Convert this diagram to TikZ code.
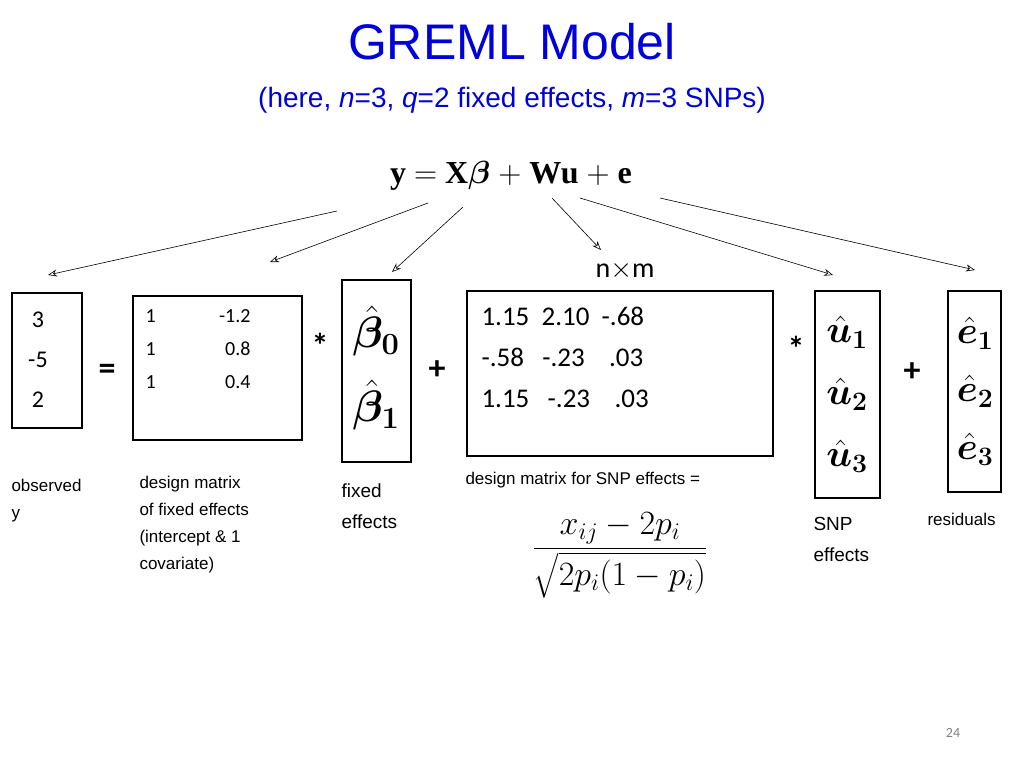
\RequirePackage{fix-cm}
\documentclass[tikz,border=0pt]{standalone}
\usepackage{amsmath,bm}
\usepackage{fontspec}
\setmainfont{Liberation Sans}
\newfontfamily\calfont{Carlito}
\newfontfamily\serffont{Liberation Serif}
\usetikzlibrary{arrows.meta}
\begin{document}
\begin{tikzpicture}[x=1pt,y=-1pt,
  box/.style={draw,line width=1.3pt},
  arr/.style={-{Stealth[open,length=9pt,width=7pt]},line width=0.6pt},
  lbl/.style={anchor=north west,align=left,font=\fontsize{16}{21}\selectfont},
  op/.style={font=\calfont\bfseries\fontsize{34}{34}\selectfont}]
\useasboundingbox (0,0) rectangle (1024,768);
\node[text=blue!85!black,font=\fontsize{50}{50}\selectfont] (title) at (512,42) {GREML Model};
\node[text=blue!85!black,font=\fontsize{28}{28}\selectfont] (sub) at (512,100) {(here, \textit{n}=3, \textit{q}=2 fixed effects, \textit{m}=3 SNPs)};
\node[font=\serffont\bfseries\fontsize{32}{32}\selectfont] (eq) at (511,176) {y $=$ X$\bm{\beta}$ $+$ Wu $+$ e};
\coordinate (s1) at (337,211); \coordinate (t1) at (48,275);
\coordinate (s2) at (428,203); \coordinate (t2) at (270,262);
\coordinate (s3) at (463,207); \coordinate (t3) at (392,272);
\coordinate (s4) at (552,198); \coordinate (t4) at (601,250);
\coordinate (s5) at (580,198); \coordinate (t5) at (833,275);
\coordinate (s6) at (660,198); \coordinate (t6) at (975,270);
\foreach \i in {1,...,6} \draw[arr] (s\i) -- (t\i);
\node[font=\calfont\fontsize{28}{28}\selectfont] (nm) at (625,270) {n$\times$m};
% y
\draw[box] (12,293) rectangle (82,428);
\node[font=\calfont\fontsize{24}{40}\selectfont,align=center] (yv) at (38,360) {3\\-5\\2};
\node[op] (eq1) at (107,372) {=};
% X
\draw[box] (133,296) rectangle (302,440);
\node[font=\calfont\fontsize{20}{33}\selectfont,align=left,anchor=north west] (xv) at (142,306) {1\\1\\1};
\node[font=\calfont\fontsize{20}{33}\selectfont,align=right,anchor=north east] (xv2) at (254,306) {-1.2\\0.8\\0.4};
\node[op] (st1) at (320,345) {*};
% beta
\draw[box] (342,280) rectangle (411,462);
\node[font=\fontsize{44}{74}\selectfont,align=center] (bv) at (376,368) {$\bm{\hat\beta_0}$\\$\bm{\hat\beta_1}$};
\node[op] (pl1) at (437,370) {+};
% W
\draw[box] (467,291) rectangle (773,456);
\node[font=\calfont\fontsize{27}{41}\selectfont,align=left,anchor=north west] (wv) at (478,304) {1.15\ \ 2.10\ \ -.68\\-.58\ \ \ -.23\ \ \ \ .03\\1.15\ \ \ -.23\ \ \ \ .03};
\node[op] (st2) at (796,348) {*};
% u
\draw[box] (815,291) rectangle (880,498);
\node[font=\fontsize{38}{62}\selectfont,align=center] (uv) at (847,394) {$\bm{\hat u_1}$\\$\bm{\hat u_2}$\\$\bm{\hat u_3}$};
\node[op] (pl2) at (912,372) {+};
% e
\draw[box] (948,291) rectangle (1001,492);
\node[font=\fontsize{38}{58}\selectfont,align=center] (ev) at (975,391) {$\bm{\hat e_1}$\\$\bm{\hat e_2}$\\$\bm{\hat e_3}$};
% labels
\node[lbl,font=\fontsize{17}{27}\selectfont] (l1) at (8,476) {observed\\y};
\node[lbl,font=\fontsize{17}{27}\selectfont] (l2) at (136,473) {design matrix\\of fixed effects\\(intercept \& 1\\covariate)};
\node[lbl,font=\fontsize{19}{31}\selectfont] (l3) at (338,480) {fixed\\effects};
\node[lbl,font=\fontsize{17}{21}\selectfont] (l4) at (462,469) {design matrix for SNP effects =};
\node[font=\fontsize{34}{34}\selectfont] (fr) at (620,555) {$\dfrac{x_{ij}-2p_i}{\sqrt{2p_i(1-p_i)}}$};
\node[lbl,font=\fontsize{19}{31}\selectfont] (l5) at (810,514) {SNP\\effects};
\node[lbl,font=\fontsize{17}{20}\selectfont] (l6) at (924,510) {residuals};
\node[text=gray,font=\calfont\fontsize{14}{14}\selectfont] (pg) at (953,733) {24};
\end{tikzpicture}
\end{document}
